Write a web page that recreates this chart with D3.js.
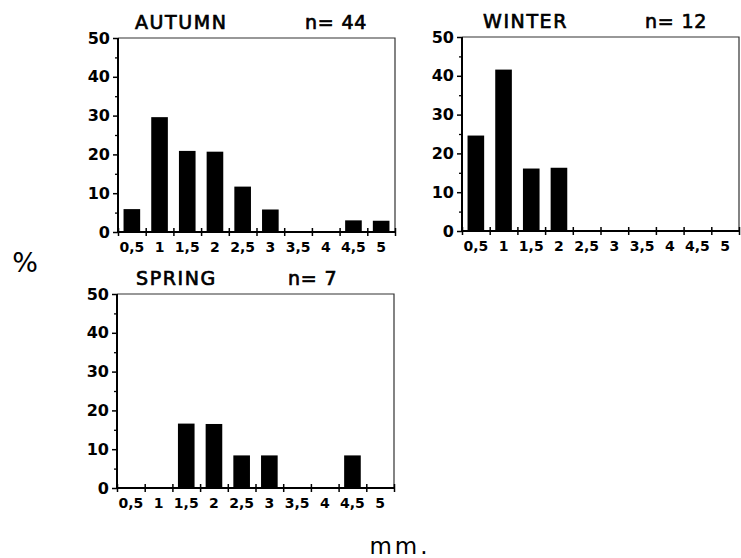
<!DOCTYPE html>
<html>
<head>
<meta charset="utf-8">
<script src="https://cdn.jsdelivr.net/npm/d3@7"></script>
<style>
body { margin:0; background:#fff; }
text { font-family:"DejaVu Sans", Arial, sans-serif; fill:#000; }
</style>
</head>
<body>
<div id="chart"></div>
<script>
// size classes (mm) and % per season
var classes = ["0,5","1","1,5","2","2,5","3","3,5","4","4,5","5"];
var autumn  = [5.9, 29.6, 20.9, 20.7, 11.7, 5.8, 0, 0, 3.0, 2.9];
var winter  = [24.6, 41.6, 16.1, 16.3, 0, 0, 0, 0, 0, 0];
var spring  = [0, 0, 16.6, 16.5, 8.4, 8.4, 0, 0, 8.4, 0];
var seasons = ["AUTUMN", "WINTER", "SPRING"];
var counts  = ["n= 44", "n= 12", "n= 7"];
var yMajor  = [0, 10, 20, 30, 40, 50];
var yMinor  = [5, 15, 25, 35, 45];

var W = 741, H = 558;
var pw = 277, ph = 194;

// layout of the three panels
var layout = [
  {left:118, top:38,  tx:135, nx:305},
  {left:462, top:37,  tx:483, nx:645},
  {left:117, top:294, tx:136, nx:288}
];
var series = [autumn, winter, spring];

var svg = d3.select("#chart").append("svg")
    .attr("width", W)
    .attr("height", H);

var x = d3.scaleBand()
    .domain(classes)
    .range([0, pw])
    .paddingInner(0.4)
    .paddingOuter(0.2);

// bin edges for the x tick marks
var edges = d3.scaleLinear().domain([0, classes.length]).range([0, pw]);

var y = d3.scaleLinear().domain([0, 50]).range([ph, 0]);

layout.forEach(function (p, i) {
   var g = svg.append("g")
       .attr("transform", "translate(" + p.left + "," + p.top + ")");

   // thin top / right frame
   g.append("path")
    .attr("d", "M0,0H" + pw + "V" + ph)
    .attr("fill", "none")
    .attr("stroke", "#333")
    .attr("stroke-width", 1.2);

   g.selectAll(".bar")
    .data(series[i])
    .enter()
    .append("rect")
    .classed("bar", true)
    .attr("x", function (d, j) { return x(classes[j]); })
    .attr("width", x.bandwidth())
    .attr("y", function (d) { return y(d); })
    .attr("height", function (d) { return ph - y(d); })
    .attr("fill", "#000");

   // y axis: labelled majors and small minors
   var ya = g.append("g")
       .call(d3.axisLeft(y).tickValues(yMajor).tickSize(5).tickPadding(3));
   ya.attr("font-size", null).attr("font-family", null);
   ya.select(".domain").attr("stroke-width", 2).attr("d", "M0,0V" + ph);
   ya.selectAll(".tick line").attr("stroke-width", 1.5);
   ya.selectAll("text")
     .style("font-weight", "bold")
     .style("font-size", "16px");

   var ym = g.append("g")
       .call(d3.axisLeft(y).tickValues(yMinor).tickSize(3).tickFormat(""));
   ym.select(".domain").remove();
   ym.selectAll(".tick line").attr("stroke-width", 1.3);

   // x axis: ticks at bin edges crossing the line
   var xe = g.append("g")
       .attr("transform", "translate(0," + ph + ")")
       .call(d3.axisBottom(edges).tickValues(d3.range(classes.length + 1)).tickSize(4).tickFormat(""));
   xe.select(".domain").attr("stroke-width", 2).attr("d", "M0,0H" + pw);
   xe.selectAll(".tick line").attr("y1", -4).attr("stroke-width", 1.5);

   var xl = g.append("g")
       .attr("transform", "translate(0," + ph + ")")
       .call(d3.axisBottom(x).tickSize(0).tickPadding(10));
   xl.attr("font-size", null).attr("font-family", null);
   xl.select(".domain").remove();
   xl.selectAll("text")
     .style("font-weight", "bold")
     .style("font-size", "14px");

   g.append("text")
    .attr("x", p.tx - p.left)
    .attr("y", -9)
    .style("font-size", "19px")
    .style("stroke", "#000")
    .style("stroke-width", "0.7px")
    .style("letter-spacing", "1.6px")
    .text(seasons[i]);

   g.append("text")
    .attr("x", p.nx - p.left)
    .attr("y", -9)
    .style("font-size", "19px")
    .style("stroke", "#000")
    .style("stroke-width", "0.7px")
    .style("letter-spacing", "0.8px")
    .text(counts[i]);
});

svg.append("text")
   .attr("x", 25)
   .attr("y", 272)
   .attr("text-anchor", "middle")
   .style("font-size", "27px")
   .text("%");

svg.append("text")
   .attr("x", 400)
   .attr("y", 554)
   .attr("text-anchor", "middle")
   .style("font-size", "23px")
   .style("letter-spacing", "3px")
   .text("mm.");
</script>
</body>
</html>
